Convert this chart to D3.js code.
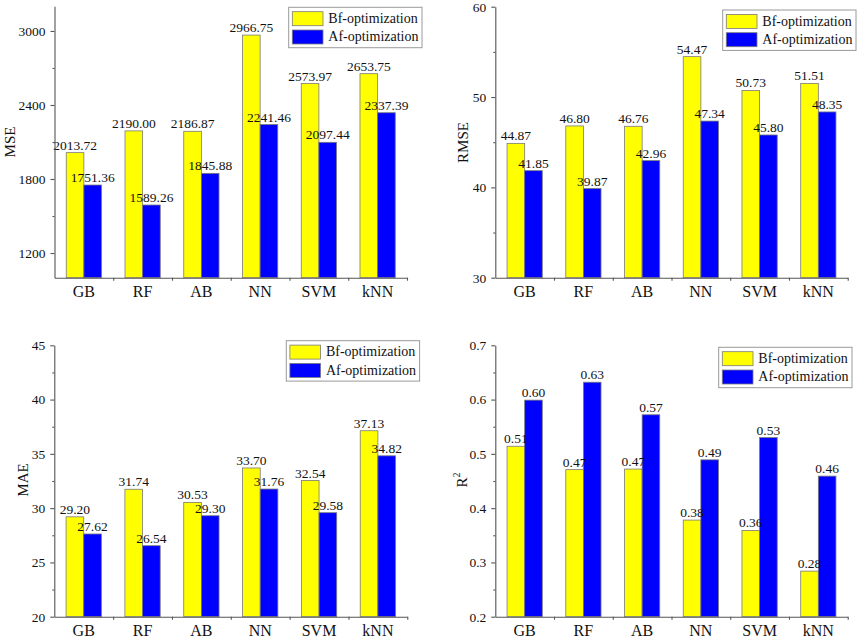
<!DOCTYPE html>
<html>
	<head>
		<title>Bf / Af optimization metrics</title>
		<script src="https://d3js.org/d3.v7.min.js"></script>
		<style>
			body { margin: 0; background: #fff; }
			text { font-family: "Times New Roman", "Liberation Serif", serif; fill: #111; }
			.axis path, .axis line { stroke: #555; stroke-width: 1.1; }
			.axis text { font-family: "Times New Roman", "Liberation Serif", serif; fill: #111; }
		</style>
	</head>

	<body>
		<svg width="858" height="641"></svg>

		<script type="text/javascript">
			var categories = ["GB", "RF", "AB", "NN", "SVM", "kNN"];
			var seriesNames = ["Bf-optimization", "Af-optimization"];

			var mseBf = [2013.72, 2190.00, 2186.87, 2966.75, 2573.97, 2653.75];
			var mseAf = [1751.36, 1589.26, 1845.88, 2241.46, 2097.44, 2337.39];
			var rmseBf = [44.87, 46.80, 46.76, 54.47, 50.73, 51.51];
			var rmseAf = [41.85, 39.87, 42.96, 47.34, 45.80, 48.35];
			var maeBf = [29.20, 31.74, 30.53, 33.70, 32.54, 37.13];
			var maeAf = [27.62, 26.54, 29.30, 31.76, 29.58, 34.82];
			var r2Bf = [0.514, 0.471, 0.472, 0.378, 0.359, 0.284];
			var r2Af = [0.599, 0.632, 0.572, 0.489, 0.530, 0.459];

			var mseTicks = [1200, 1800, 2400, 3000];
			var rmseTicks = [30, 40, 50, 60];
			var maeTicks = [20, 25, 30, 35, 40, 45];
			var r2Ticks = [0.2, 0.3, 0.4, 0.5, 0.6, 0.7];

			var colors = ["#ffff00", "#0000ff"];
			var svg = d3.select("svg");

			var panels = [
				{ title: "MSE", bf: mseBf, af: mseAf, domain: [1000, 3200], ticks: mseTicks, minor: [1500, 2100, 2700],
				  fmt: d3.format(".0f"), x0: 54.5, x1: 407, top: 6.3, bottom: 277.7, titleX: 9.5, titleY: 142,
				  legend: [288.7, 7.3] },
				{ title: "RMSE", bf: rmseBf, af: rmseAf, domain: [30, 60], ticks: rmseTicks, minor: [35, 45, 55],
				  fmt: d3.format(".0f"), x0: 495.3, x1: 847.7, top: 6.7, bottom: 277.7, titleX: 463.3, titleY: 142.5,
				  legend: [722.7, 10] },
				{ title: "MAE", bf: maeBf, af: maeAf, domain: [20, 45], ticks: maeTicks, minor: [22.5, 27.5, 32.5, 37.5, 42.5],
				  fmt: d3.format(".0f"), x0: 54.3, x1: 407.3, top: 345.3, bottom: 616.7, titleX: 22.7, titleY: 480,
				  legend: [286.3, 340.7] },
				{ title: "R2", bf: r2Bf, af: r2Af, domain: [0.2, 0.7], ticks: r2Ticks, minor: [0.25, 0.35, 0.45, 0.55, 0.65],
				  fmt: d3.format(".1f"), x0: 495.3, x1: 847.7, top: 345.3, bottom: 616.7, titleX: 461.7, titleY: 480,
				  legend: [718.7, 347.3] }
			];

			panels.forEach(drawPanel);

			function drawPanel(p) {
				var g = svg.append("g");

				var x = d3.scaleBand()
					.domain(categories)
					.range([p.x0, p.x1])
					.padding(0);

				var sub = d3.scaleBand()
					.domain([0, 1])
					.range([0, x.bandwidth()])
					.paddingInner(0)
					.paddingOuter(2 / 3);

				var y = d3.scaleLinear()
					.domain(p.domain)
					.range([p.bottom, p.top]);

				// bars
				var rows = categories.map(function (c, i) {
					return [{ cat: c, s: 0, v: p.bf[i] }, { cat: c, s: 1, v: p.af[i] }];
				});
				var flat = [].concat.apply([], rows);

				g.selectAll("rect.bar")
					.data(flat)
					.enter().append("rect")
					.attr("class", "bar")
					.attr("x", function (d) { return x(d.cat) + sub(d.s); })
					.attr("y", function (d) { return y(d.v); })
					.attr("width", sub.bandwidth())
					.attr("height", function (d) { return p.bottom - y(d.v); })
					.style("fill", function (d) { return colors[d.s]; })
					.style("stroke", "#7a7a7a")
					.style("stroke-width", 0.8);

				// value labels
				g.selectAll("text.val")
					.data(flat)
					.enter().append("text")
					.attr("class", "val")
					.attr("x", function (d) { return x(d.cat) + sub(d.s) + sub.bandwidth() / 2; })
					.attr("y", function (d) { return y(d.v) - 3; })
					.attr("text-anchor", "middle")
					.attr("font-size", 13.5)
					.text(function (d) { return d.v.toFixed(2); });

				// y axis, major + minor
				g.append("g")
					.attr("class", "axis")
					.attr("transform", "translate(" + p.x0 + ",0)")
					.call(d3.axisLeft(y).tickValues(p.ticks).tickFormat(p.fmt).tickSize(4).tickPadding(5).tickSizeOuter(0))
					.selectAll("text").attr("font-size", 13.5);

				g.append("g")
					.attr("class", "axis")
					.attr("transform", "translate(" + p.x0 + ",0)")
					.call(d3.axisLeft(y).tickValues(p.minor).tickFormat("").tickSize(2).tickSizeOuter(0))
					.select("path").remove();

				// x axis: labels at band centres, ticks at band edges
				g.append("g")
					.attr("class", "axis")
					.attr("transform", "translate(0," + p.bottom + ")")
					.call(d3.axisBottom(x).tickSize(0).tickPadding(8).tickSizeOuter(0))
					.selectAll("text").attr("font-size", 16).attr("dy", "0.71em");

				var edges = d3.scaleLinear().domain([0, categories.length]).range([p.x0, p.x1]);
				g.append("g")
					.attr("class", "axis")
					.attr("transform", "translate(0," + p.bottom + ")")
					.call(d3.axisBottom(edges).tickValues([1, 2, 3, 4, 5, 6]).tickFormat("").tickSize(3).tickSizeOuter(0))
					.select("path").remove();

				// y title
				var t = g.append("text")
					.attr("transform", "translate(" + p.titleX + "," + p.titleY + ") rotate(-90)")
					.attr("text-anchor", "middle")
					.attr("dominant-baseline", "central")
					.attr("font-size", 15);
				if (p.title === "R2") {
					t.append("tspan").text("R");
					t.append("tspan").attr("font-size", 10).attr("dy", -6).text("2");
				} else {
					t.text(p.title);
				}

				// legend
				var lg = g.append("g")
					.attr("transform", "translate(" + p.legend[0] + "," + p.legend[1] + ")");
				lg.append("rect")
					.attr("width", 133.3)
					.attr("height", 40.4)
					.style("fill", "#fff")
					.style("stroke", "#9a9a9a")
					.style("stroke-width", 1);
				var items = lg.selectAll("g.item")
					.data(seriesNames)
					.enter().append("g")
					.attr("class", "item")
					.attr("transform", function (d, i) { return "translate(3.6," + (4.4 + i * 18.3) + ")"; });
				items.append("rect")
					.attr("width", 30.7)
					.attr("height", 14)
					.style("fill", function (d, i) { return colors[i]; })
					.style("stroke", "#7a7a7a")
					.style("stroke-width", 0.8);
				items.append("text")
					.attr("x", 36)
					.attr("y", 11.2)
					.attr("font-size", 14)
					.text(function (d) { return d; });
			}
		</script>
	</body>
</html>
